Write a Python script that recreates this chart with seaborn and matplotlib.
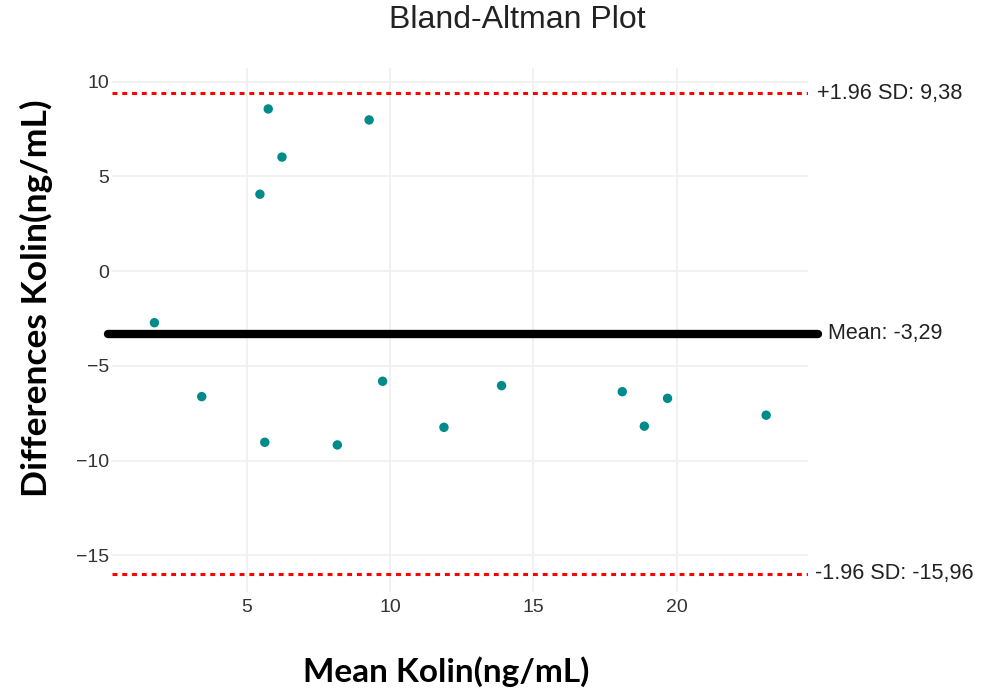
import matplotlib
matplotlib.use("Agg")
import matplotlib.pyplot as plt
import seaborn as sns
import pandas as pd

# ---- data ----
mean_kolin = [5.75, 9.27, 6.23, 5.46, 1.78, 3.43, 5.63, 8.16, 9.74, 11.88,
              13.89, 18.10, 19.68, 18.87, 23.12]
diff_kolin = [8.56, 7.98, 6.02, 4.06, -2.72, -6.62, -9.03, -9.17, -5.81, -8.24,
              -6.04, -6.36, -6.71, -8.18, -7.60]
mean_diff = -3.29
upper_loa = 9.38
lower_loa = -15.96
x_ticks = [5, 10, 15, 20]
y_ticks = [10, 5, 0, -5, -10, -15]

df = pd.DataFrame({"mean": mean_kolin, "diff": diff_kolin})

sns.set_theme(style="whitegrid")
plt.rcParams["font.family"] = ["Liberation Sans", "DejaVu Sans"]

W, H = 984, 695
fig = plt.figure(figsize=(W / 100, H / 100), dpi=100)
ax_l, ax_r, ax_t, ax_b = 112, 808, 68, 592
ax = fig.add_axes([ax_l / W, 1 - ax_b / H, (ax_r - ax_l) / W, (ax_b - ax_t) / H])

sns.scatterplot(data=df, x="mean", y="diff", ax=ax, color="#008b8b",
                s=46, edgecolor="none", zorder=4, legend=False)

ax.set_xlim(0.30, 24.58)
ax.set_ylim(-16.93, 10.72)
ax.set_xticks(x_ticks)
ax.set_yticks(y_ticks)
ax.set_xticklabels([str(t) for t in x_ticks])
ax.set_yticklabels([str(t).replace("-", "\u2212") for t in y_ticks])
ax.tick_params(axis="both", length=0, labelsize=14, colors="#333333")
ax.tick_params(axis="y", pad=2)
ax.tick_params(axis="x", pad=5)
ax.grid(True, color="#f0f0f0", linewidth=1.3)
ax.set_facecolor("white")
for sp in ax.spines.values():
    sp.set_visible(False)
ax.set_xlabel("")
ax.set_ylabel("")

# limits of agreement
for val in (upper_loa, lower_loa):
    ax.axhline(val, color="red", linewidth=2.2, linestyle=(0, (1.6, 1.6)),
               zorder=3)
# mean line
ax.axhline(mean_diff, xmin=-0.006, xmax=1.0144, color="black", linewidth=6,
           solid_capstyle="round", zorder=3, clip_on=False)

tr = ax.get_yaxis_transform()
fmt = lambda v: f"{v:.2f}".replace(".", ",")
ax.text(1.013, upper_loa, f"+1.96 SD: {fmt(upper_loa)}", transform=tr,
        ha="left", va="center", fontsize=15.7, color="#222222")
ax.text(1.01, lower_loa, f"-1.96 SD: {fmt(lower_loa)}", transform=tr,
        ha="left", va="center", fontsize=15.6, color="#222222")
ax.text(1.029, mean_diff, f"Mean: {fmt(mean_diff)}", transform=tr,
        ha="left", va="center", fontsize=15.5, color="#222222")

fig.text(517 / W, 1 - 20 / H, "Bland-Altman Plot", ha="center", va="center",
         fontsize=23, color="#222222")
fig.text(446 / W, 1 - 672 / H, "Mean Kolin(ng/mL)", ha="center", va="center",
         fontsize=24, fontweight="bold", family=["Lato", "DejaVu Sans"],
         color="black")
fig.text(36 / W, 1 - 298 / H, "Differences Kolin(ng/mL)", ha="center",
         va="center", rotation=90, fontsize=25.5, fontweight="bold",
         family=["Lato", "DejaVu Sans"], color="black")

fig.savefig("out.png", dpi=100, facecolor="white")
